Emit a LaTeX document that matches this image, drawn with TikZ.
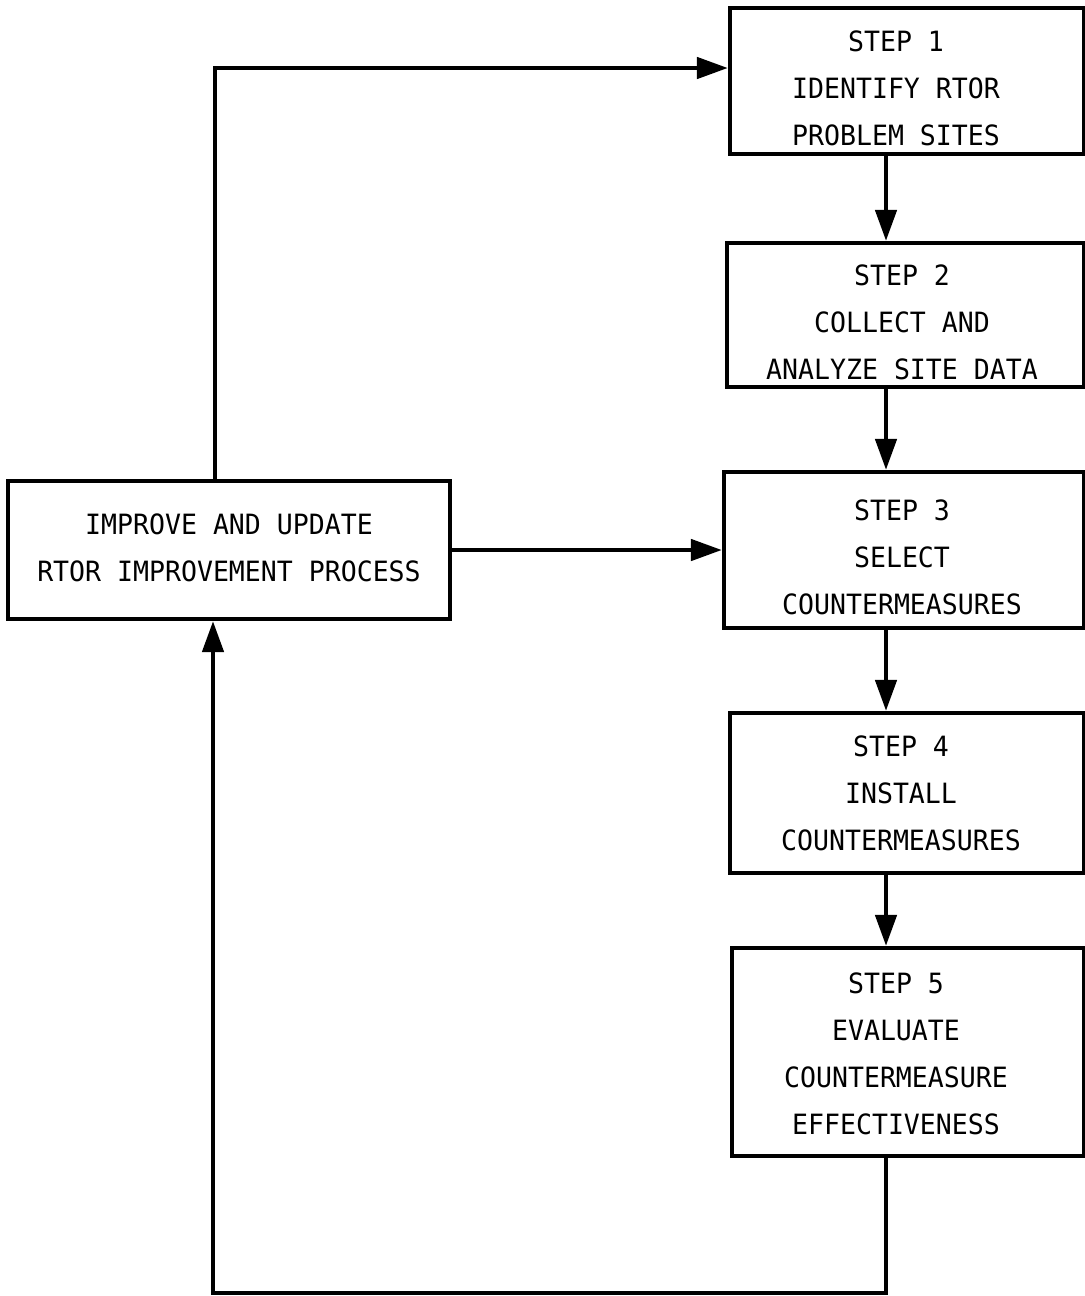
\documentclass[tikz,border=0pt]{standalone}
\usepackage{fontspec}
\newfontfamily\diagfont[FakeStretch=0.95]{DejaVu Sans Mono}
\usetikzlibrary{arrows.meta}
\begin{document}
\begin{tikzpicture}[x=0.02cm,y=-0.02cm,
  box/.style={draw,line width=2.4pt,inner sep=0pt},
  lbl/.style={align=center,inner sep=0pt,
    font=\diagfont\fontsize{15.9pt}{26.7pt}\selectfont},
  arr/.style={line width=2.6pt,line join=miter,-{Triangle[length=0.62cm,width=0.42cm]}}]
\useasboundingbox (0,0) rectangle (1085,1296);
\node[box,minimum width=7.08cm,minimum height=2.92cm] (s1) at (907,81) {};
\node[box,minimum width=7.14cm,minimum height=2.88cm] (s2) at (905.5,315) {};
\node[box,minimum width=7.2cm,minimum height=3.12cm] (s3) at (904,550) {};
\node[box,minimum width=7.08cm,minimum height=3.2cm] (s4) at (907,793) {};
\node[box,minimum width=7.04cm,minimum height=4.16cm] (s5) at (908,1052) {};
\node[box,minimum width=8.84cm,minimum height=2.76cm] (lb) at (229,550) {};
\node[lbl] (t1) at (896,88) {STEP 1\\IDENTIFY RTOR\\PROBLEM SITES};
\node[lbl] (t2) at (902,322) {STEP 2\\COLLECT AND\\ANALYZE SITE DATA};
\node[lbl] (t3) at (902,557) {STEP 3\\SELECT\\COUNTERMEASURES};
\node[lbl] (t4) at (901,793) {STEP 4\\INSTALL\\COUNTERMEASURES};
\node[lbl] (t5) at (896,1054) {STEP 5\\EVALUATE\\COUNTERMEASURE\\EFFECTIVENESS};
\node[lbl] (tl) at (229,548) {IMPROVE AND UPDATE\\RTOR IMPROVEMENT PROCESS};
\coordinate (ax) at (886,0);
\coordinate (lx) at (213,1293);
\coordinate (tx) at (215,68);
\draw[arr] (s1.south -| ax) -- (s2.north -| ax);
\draw[arr] (s2.south -| ax) -- (s3.north -| ax);
\draw[arr] (s3.south -| ax) -- (s4.north -| ax);
\draw[arr] (s4.south -| ax) -- (s5.north -| ax);
\draw[arr] (s5.south -| ax) |- (lx) -- (lb.south -| lx);
\draw[arr] (lb.north -| tx) -- (tx) -- (s1.west |- tx);
\draw[arr] (lb.east) -- (s3.west |- lb.east);
\end{tikzpicture}
\end{document}
